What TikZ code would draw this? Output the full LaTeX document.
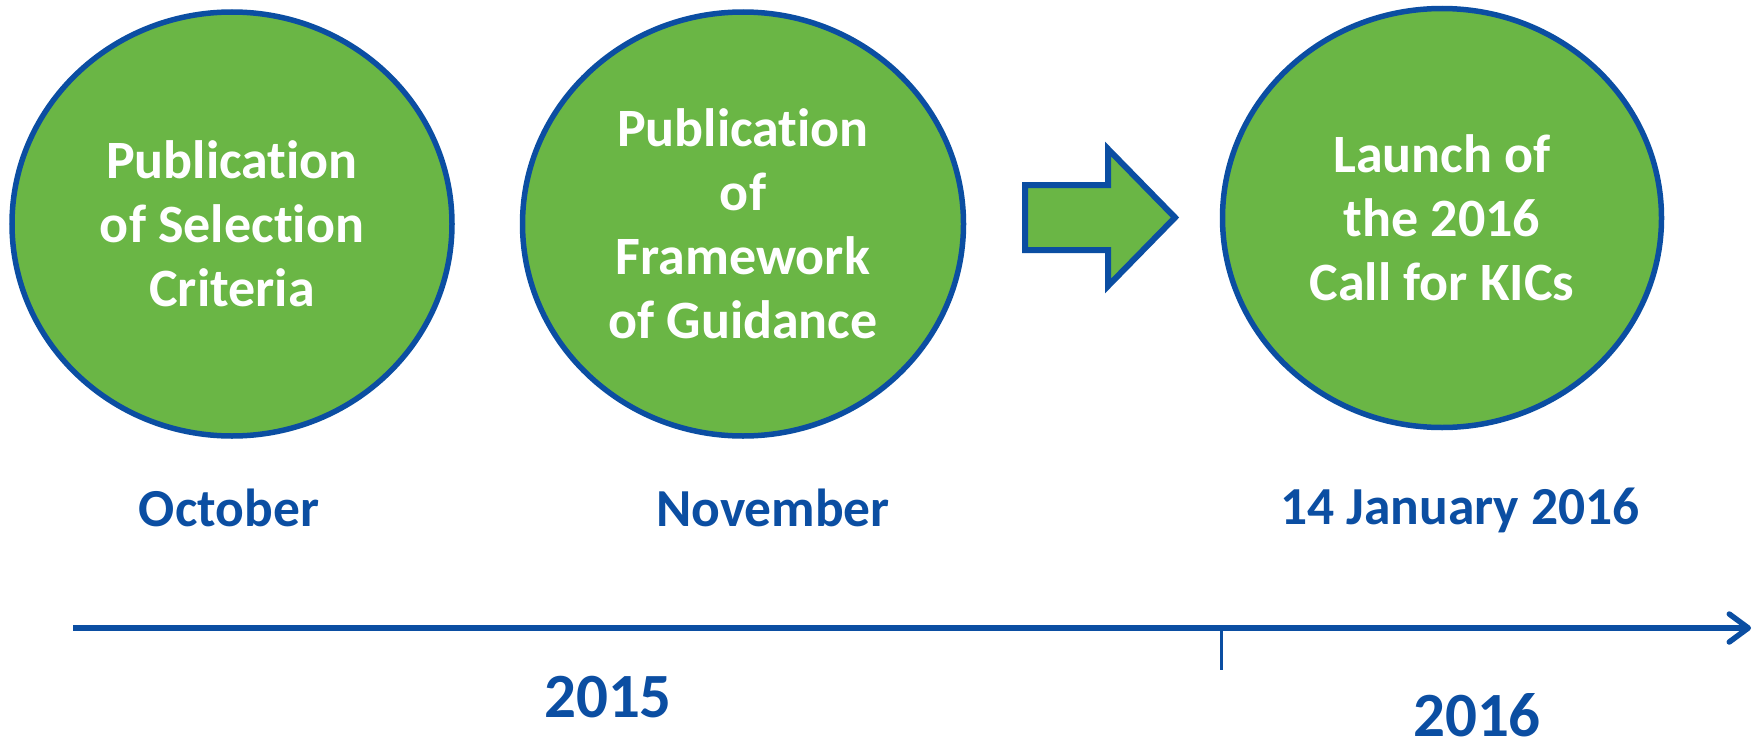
\documentclass[tikz,border=0pt]{standalone}
\usepackage{fontspec}
\setmainfont[Ligatures=CommonOff]{Carlito}
\usetikzlibrary{shapes.geometric,arrows.meta}
\definecolor{leaf}{RGB}{106,182,69}
\definecolor{navy}{RGB}{11,78,162}
\tikzset{
  bubble/.style={ellipse, draw=navy, fill=leaf, line width=5.5pt, inner sep=0pt,
    text=white, align=center, font=\fontsize{54}{64}\selectfont\bfseries},
  datelabel/.style={anchor=base, text=navy, inner sep=0pt, font=\fontsize{53.5}{60}\selectfont\bfseries},
  yearlabel/.style={anchor=base, text=navy, inner sep=0pt, text depth=0pt, font=\fontsize{63}{70}\selectfont\bfseries},
  axisline/.style={draw=navy, line width=5.5pt},
}
\begin{document}
\begin{tikzpicture}[x=1pt,y=-1pt]
\useasboundingbox (0,0) rectangle (1758,744);
\node[bubble, minimum width=440pt, minimum height=424pt] (c1) at (232,224) {Publication\\of Selection\\Criteria};
\node[bubble, minimum width=441pt, minimum height=424pt] (c2) at (743,224) {Publication\\of\\Framework\\of Guidance};
\node[bubble, minimum width=439pt, minimum height=419pt] (c3) at (1442,218) {Launch of\\the 2016\\Call for KICs};
\draw[draw=navy, fill=leaf, line width=6pt, line join=miter]
  (1025,185) -- (1108,185) -- (1108,149) -- (1175,217.5) -- (1108,286) -- (1108,250) -- (1025,250) -- cycle;
\node[datelabel] (m1) at (229,526) {October};
\node[datelabel] (m2) at (773,526) {November};
\node[datelabel] (m3) at (1460,524) {14 January 2016};
\coordinate (a0) at (73,628);
\coordinate (a1) at (1751,628);
\draw[axisline, -{Straight Barb[length=19pt,width=28pt,round]}] (a0) -- (a1);
\coordinate (t0) at (1221,628);
\coordinate (t1) at (1221,670);
\draw[draw=navy, line width=3pt] (t0) -- (t1);
\node[yearlabel] (y1) at (608,717) {2015};
\node[yearlabel] (y2) at (1477,736) {2016};
\end{tikzpicture}
\end{document}
